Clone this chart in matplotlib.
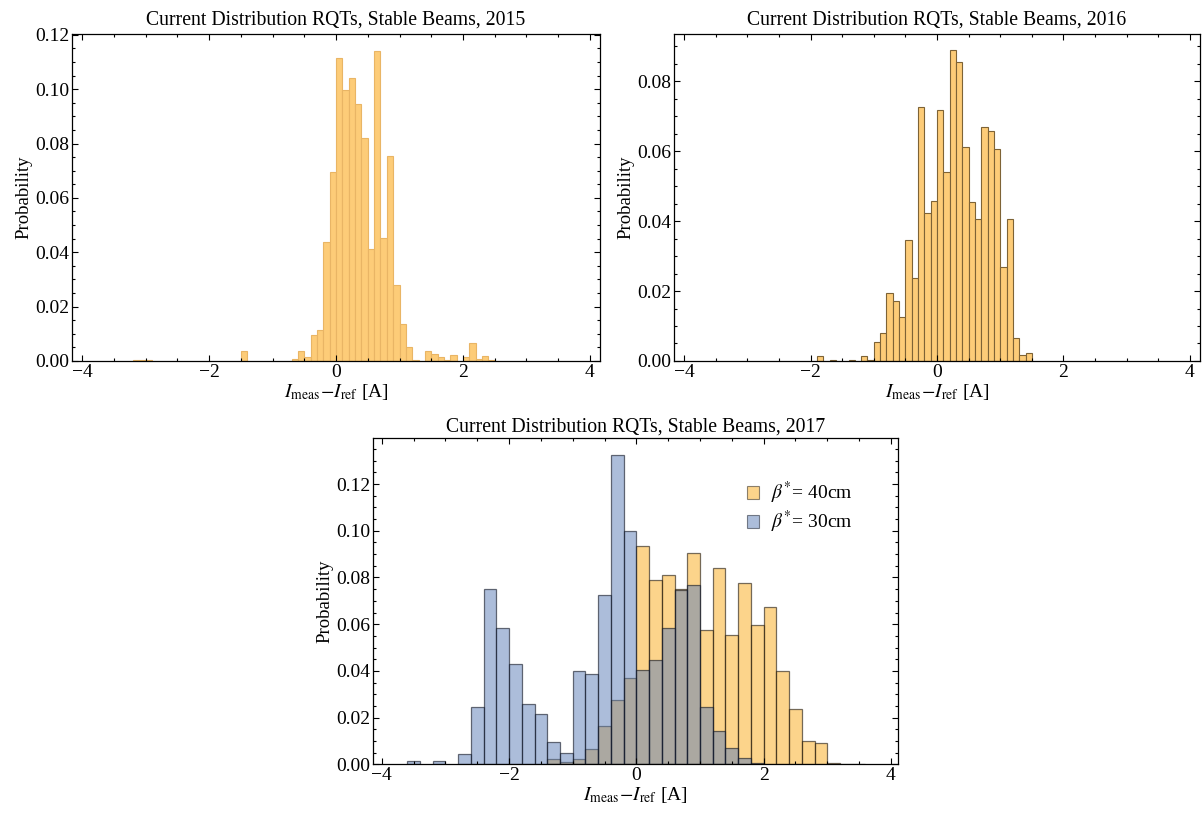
import matplotlib
matplotlib.use("Agg")
import matplotlib.pyplot as plt
import numpy as np
from matplotlib.ticker import MultipleLocator, FormatStrFormatter
from matplotlib.patches import Patch

plt.rcParams['font.family'] = ['Liberation Serif', 'DejaVu Serif']
plt.rcParams['mathtext.fontset'] = 'stix'

# 2015 histogram (bin width 0.1, left edges + probabilities)
bins_2015 = [-3.2, -3.1, -3.0, -1.5, -0.7, -0.6, -0.5, -0.4, -0.3, -0.2, -0.1,
             0.0, 0.1, 0.2, 0.3, 0.4, 0.5, 0.6, 0.7, 0.8, 0.9, 1.0, 1.1, 1.2,
             1.4, 1.5, 1.6, 1.7, 1.8, 2.0, 2.1, 2.2, 2.3, 2.4]
prob_2015 = [0.0003, 0.0003, 0.0003, 0.0038, 0.0009, 0.0038, 0.0016, 0.0095, 0.0115, 0.0439, 0.0694,
             0.1114, 0.0996, 0.1042, 0.0944, 0.0820, 0.0412, 0.1139, 0.0453, 0.0754, 0.0280, 0.0136, 0.0050, 0.0005,
             0.0038, 0.0026, 0.0016, 0.0002, 0.0023, 0.0016, 0.0067, 0.0009, 0.0020, 0.0005]

# 2016 histogram (bin width 0.1)
bins_2016 = [-1.9, -1.7, -1.4, -1.2, -1.1, -1.0, -0.9, -0.8, -0.7, -0.6, -0.5, -0.4, -0.3, -0.2, -0.1,
             0.0, 0.1, 0.2, 0.3, 0.4, 0.5, 0.6, 0.7, 0.8, 0.9, 1.0, 1.1, 1.2, 1.3, 1.4]
prob_2016 = [0.0014, 0.0003, 0.0003, 0.0013, 0.0004, 0.0055, 0.0081, 0.0193, 0.0172, 0.0125, 0.0346, 0.0236, 0.0726, 0.0422, 0.0457,
             0.0717, 0.0539, 0.0889, 0.0855, 0.0611, 0.0454, 0.0405, 0.0669, 0.0657, 0.0606, 0.0268, 0.0405, 0.0065, 0.0016, 0.0023]

# 2017 histograms (bin width 0.2)
bins_40cm = [-1.4, -1.2, -1.0, -0.8, -0.6, -0.4, -0.2, 0.0, 0.2, 0.4, 0.6, 0.8, 1.0, 1.2,
             1.4, 1.6, 1.8, 2.0, 2.2, 2.4, 2.6, 2.8, 3.0, 3.2, 3.4]
prob_40cm = [0.0023, 0.0010, 0.0021, 0.0066, 0.0166, 0.0274, 0.0368, 0.0934, 0.0789, 0.0811, 0.0752, 0.0904, 0.0574, 0.0839,
             0.0552, 0.0777, 0.0598, 0.0672, 0.0401, 0.0237, 0.0100, 0.0091, 0.0004, 0.0002, 0.0002]
bins_30cm = [-3.6, -3.2, -2.8, -2.6, -2.4, -2.2, -2.0, -1.8, -1.6, -1.4, -1.2, -1.0, -0.8, -0.6, -0.4, -0.2,
             0.0, 0.2, 0.4, 0.6, 0.8, 1.0, 1.2, 1.4, 1.6, 1.8]
prob_30cm = [0.0013, 0.0013, 0.0043, 0.0247, 0.0749, 0.0582, 0.0428, 0.0260, 0.0216, 0.0094, 0.0047, 0.0400, 0.0387, 0.0725, 0.1326, 0.1001,
             0.0403, 0.0447, 0.0584, 0.0747, 0.0768, 0.0246, 0.0141, 0.0068, 0.0029, 0.0007]

xlabel = r'$I_{\mathrm{meas}}\!-\!I_{\mathrm{ref}}$ [A]'
title_fmt = 'Current Distribution RQTs, Stable Beams, {}'

orange = (251/255, 171/255, 25/255)
blue = (91/255, 125/255, 183/255)


def style_axes(ax, ytop):
    ax.set_xlim(-4.16, 4.16)
    ax.set_ylim(0, ytop)
    ax.xaxis.set_major_locator(MultipleLocator(2))
    ax.xaxis.set_minor_locator(MultipleLocator(0.5))
    ax.yaxis.set_major_locator(MultipleLocator(0.02))
    ax.yaxis.set_minor_locator(MultipleLocator(0.005))
    ax.yaxis.set_major_formatter(FormatStrFormatter('%.2f'))
    ax.tick_params(which='both', direction='in', top=True, right=True, width=0.8, labelsize=14, pad=2)
    ax.tick_params(which='major', length=4)
    ax.tick_params(which='minor', length=2)
    for s in ax.spines.values():
        s.set_linewidth(0.9)
    ax.set_xlabel(xlabel, fontsize=14, labelpad=1)
    ax.set_ylabel('Probability', fontsize=13.5, labelpad=2)


fig = plt.figure(figsize=(12.03, 8.13), dpi=100)

ax1 = fig.add_axes([0.0599, 0.556, 0.4389, 0.4022])
ax1.bar(bins_2015, prob_2015, width=0.1, align='edge', color='#FDCC78',
        edgecolor='#E9B565', linewidth=0.8)
style_axes(ax1, 0.1203)
ax1.set_title(title_fmt.format(2015), fontsize=14.2, pad=7)

ax2 = fig.add_axes([0.5603, 0.556, 0.4372, 0.4022])
ax2.bar(bins_2016, prob_2016, width=0.1, align='edge', color='#FDCC78',
        edgecolor='#7E6336', linewidth=0.8)
style_axes(ax2, 0.0935)
ax2.set_title(title_fmt.format(2016), fontsize=14.2, pad=7)

ax3 = fig.add_axes([0.310, 0.0599, 0.4364, 0.401])
ax3.bar(bins_40cm, prob_40cm, width=0.2, align='edge', color=orange + (0.5,),
        edgecolor=(0.1, 0.08, 0.05, 0.6), linewidth=0.9)
ax3.bar(bins_30cm, prob_30cm, width=0.2, align='edge', color=blue + (0.5,),
        edgecolor=(0.05, 0.07, 0.12, 0.6), linewidth=0.9)
style_axes(ax3, 0.1396)
ax3.set_xlim(-4.14, 4.11)
ax3.set_title(title_fmt.format(2017), fontsize=14.2, pad=5)

handles = [Patch(facecolor=orange + (0.5,), edgecolor=(0.1, 0.08, 0.05, 0.5), linewidth=0.8),
           Patch(facecolor=blue + (0.5,), edgecolor=(0.05, 0.07, 0.12, 0.5), linewidth=0.8)]
ax3.legend(handles, [r'$\beta^{*}$= 40cm', r'$\beta^{*}$= 30cm'], loc='upper left',
           bbox_to_anchor=(0.68, 0.925), frameon=False, fontsize=14,
           handlelength=0.6, handleheight=0.6, handletextpad=0.6, labelspacing=0.15)

fig.savefig('out.png', dpi=100)
